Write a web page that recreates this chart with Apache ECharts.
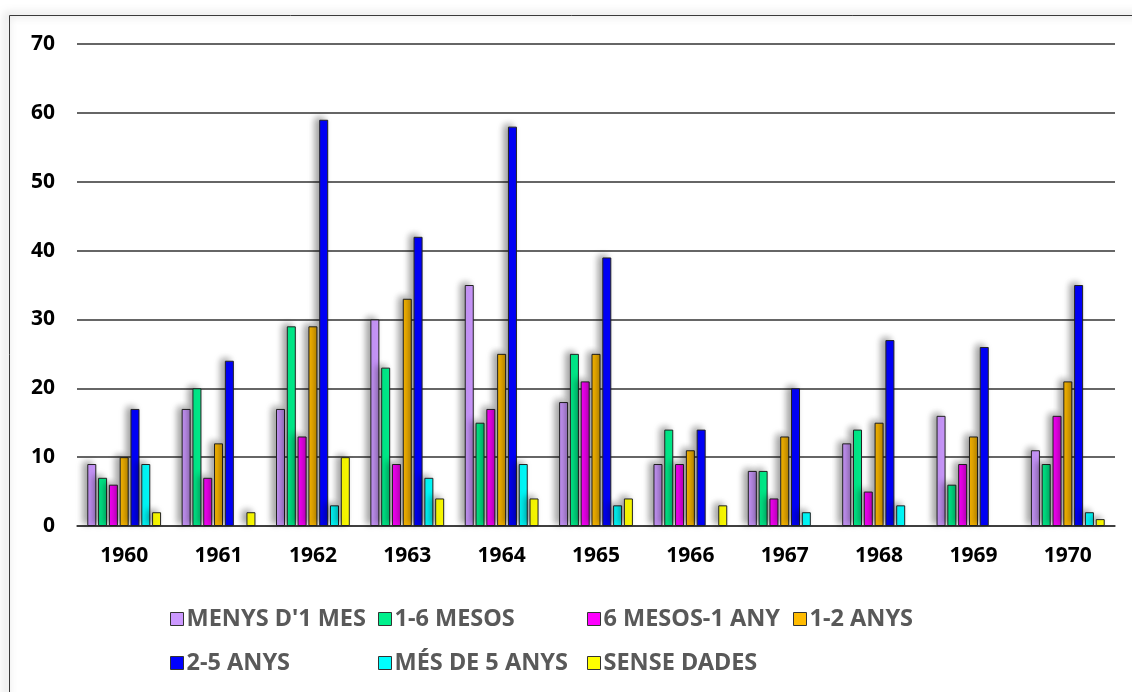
<!DOCTYPE html>
<html>
<head>
<meta charset="utf-8">
<script src="https://cdn.jsdelivr.net/npm/echarts@6/dist/echarts.min.js"></script>
<style>
html,body{margin:0;padding:0;background:#fff;}
#chart{width:1132px;height:692px;}
</style>
</head>
<body>
<div id="chart"></div>
<script>
const categories = ['1960','1961','1962','1963','1964','1965','1966','1967','1968','1969','1970'];
const menysUnMes   = [9, 17, 17, 30, 35, 18, 9, 8, 12, 16, 11];
const unSisMesos   = [7, 20, 29, 23, 15, 25, 14, 8, 14, 6, 9];
const sisMesosAny  = [6, 7, 13, 9, 17, 21, 9, 4, 5, 9, 16];
const unDosAnys    = [10, 12, 29, 33, 25, 25, 11, 13, 15, 13, 21];
const dosCincAnys  = [17, 24, 59, 42, 58, 39, 14, 20, 27, 26, 35];
const mesCincAnys  = [9, 0, 3, 7, 9, 3, 0, 2, 3, 0, 2];
const senseDades   = [2, 2, 10, 4, 4, 4, 3, 0, 0, 0, 1];
const seriesNames = ["MENYS D'1 MES", '1-6 MESOS', '6 MESOS-1 ANY', '1-2 ANYS', '2-5 ANYS', 'MÉS DE 5 ANYS', 'SENSE DADES'];
const yTicks = [0, 10, 20, 30, 40, 50, 60, 70];

const seriesData = [menysUnMes, unSisMesos, sisMesosAny, unDosAnys, dosCincAnys, mesCincAnys, senseDades];
const colors = ['#CC99FF', '#00F08C', '#FF00FF', '#FFBB00', '#0000FF', '#00FFFF', '#FFFF00'];

const legendPos = [
  [170, 607], [378, 607], [587, 607], [793, 607],
  [170, 651], [378, 651], [587, 651]
];

const chart = echarts.init(document.getElementById('chart'), null, {renderer: 'canvas'});
const option = {
  animation: false,
  color: colors,
  graphic: [{
    type: 'rect',
    shape: {x: 9.5, y: 15.5, width: 1140, height: 700},
    style: {fill: 'none', stroke: '#3a3a3a', lineWidth: 1,
            shadowBlur: 8, shadowColor: 'rgba(0,0,0,0.55)', shadowOffsetX: -3, shadowOffsetY: -1},
    z: 0
  }],
  grid: {left: 77, right: 17, top: 44, bottom: 166, containLabel: false},
  legend: seriesNames.map((n, i) => ({
    data: [n],
    left: legendPos[i][0],
    top: legendPos[i][1],
    padding: 0,
    itemWidth: 13,
    itemHeight: 13,
    icon: 'rect',
    itemStyle: {borderColor: '#333', borderWidth: 1, shadowBlur: 0, shadowOffsetX: 0, shadowOffsetY: 0},
    textStyle: {fontFamily: 'Noto Sans', fontWeight: 'bold', fontSize: 23.5, color: '#595959', padding: [0, 0, 0, -2]}
  })),
  xAxis: {
    type: 'category',
    data: categories,
    axisTick: {show: false},
    axisLine: {lineStyle: {color: '#333', width: 1.5}},
    axisLabel: {fontFamily: 'Noto Sans', fontWeight: 'bold', fontSize: 21, color: '#000', margin: 20}
  },
  yAxis: {
    type: 'value',
    min: yTicks[0],
    max: yTicks[yTicks.length - 1],
    interval: 10,
    axisLine: {show: false},
    axisTick: {show: false},
    splitLine: {lineStyle: {color: '#333', width: 1.5}},
    axisLabel: {fontFamily: 'Noto Sans', fontWeight: 'bold', fontSize: 21, color: '#000', margin: 22}
  },
  series: seriesNames.map((n, i) => ({
    name: n,
    type: 'bar',
    data: seriesData[i].map(v => v === 0
      ? {value: v, itemStyle: {borderWidth: 0, shadowBlur: 0, shadowColor: 'transparent'}}
      : v),
    barWidth: 9,
    barGap: '20%',
    itemStyle: {
      color: colors[i],
      borderColor: '#222',
      borderWidth: 1,
      shadowBlur: 7,
      shadowColor: 'rgba(0,0,0,0.4)',
      shadowOffsetX: -4,
      shadowOffsetY: -2
    }
  }))
};
chart.setOption(option);
</script>
</body>
</html>
